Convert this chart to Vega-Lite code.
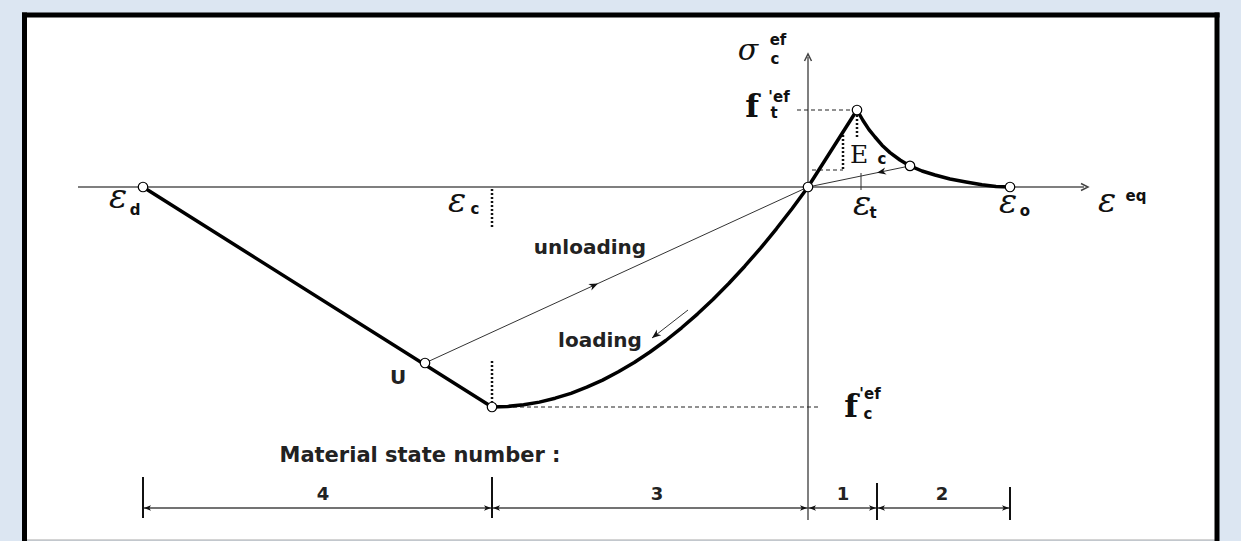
{
  "$schema": "https://vega.github.io/schema/vega-lite/v6.json",
  "width": 1241,
  "height": 541,
  "autosize": {"type": "none"},
  "padding": 0,
  "background": "#dce6f2",
  "config": {"view": {"stroke": null}},
  "datasets": {
    "sheet": [{"x": -7.835, "y": 1.72, "x2": 4.09, "y2": -3.53}],
    "border": [
      {"x": -7.835, "y": 1.745, "x2": -7.835, "y2": -3.6},
      {"x": -7.86, "y": 1.72, "x2": 4.115, "y2": 1.72},
      {"x": 4.09, "y": 1.745, "x2": 4.09, "y2": -3.6}
    ],
    "bottomEdge": [{"x": -7.81, "y": -3.53, "x2": 4.07, "y2": -3.53}],
    "axes": [
      {"x": -7.30, "y": 0, "x2": 2.76, "y2": 0},
      {"x": 0, "y": -3.33, "x2": 0, "y2": 1.30}
    ],
    "axisTipRight": [{"x": 2.80, "y": 0}],
    "axisTipUp": [{"x": 0, "y": 1.33}],
    "envelope": [
      {"x": -6.65, "y": 0},
      {"x": -3.16, "y": -2.2},
      {"x": -3.002, "y": -2.194},
      {"x": -2.844, "y": -2.178},
      {"x": -2.686, "y": -2.151},
      {"x": -2.528, "y": -2.112},
      {"x": -2.37, "y": -2.063},
      {"x": -2.212, "y": -2.002},
      {"x": -2.054, "y": -1.931},
      {"x": -1.896, "y": -1.848},
      {"x": -1.738, "y": -1.755},
      {"x": -1.58, "y": -1.65},
      {"x": -1.422, "y": -1.535},
      {"x": -1.264, "y": -1.408},
      {"x": -1.106, "y": -1.271},
      {"x": -0.948, "y": -1.122},
      {"x": -0.79, "y": -0.963},
      {"x": -0.632, "y": -0.792},
      {"x": -0.474, "y": -0.611},
      {"x": -0.316, "y": -0.418},
      {"x": -0.158, "y": -0.215},
      {"x": 0, "y": 0},
      {"x": 0.49, "y": 0.77},
      {"x": 0.55, "y": 0.665},
      {"x": 0.61, "y": 0.574},
      {"x": 0.67, "y": 0.5},
      {"x": 0.74, "y": 0.418},
      {"x": 0.82, "y": 0.344},
      {"x": 0.92, "y": 0.27},
      {"x": 1.02, "y": 0.211},
      {"x": 1.14, "y": 0.16},
      {"x": 1.27, "y": 0.12},
      {"x": 1.42, "y": 0.08},
      {"x": 1.58, "y": 0.05},
      {"x": 1.74, "y": 0.022},
      {"x": 1.88, "y": 0.006},
      {"x": 2.02, "y": 0}
    ],
    "thin": [
      {"x": -3.83, "y": -1.76, "x2": 0, "y2": 0},
      {"x": 1.02, "y": 0.211, "x2": 0, "y2": 0},
      {"x": -1.20, "y": -1.23, "x2": -1.56, "y2": -1.51},
      {"x": 0.53, "y": 0.14, "x2": 0.53, "y2": -0.03}
    ],
    "dashed": [
      {"x": -3.16, "y": -2.2, "x2": 0.10, "y2": -2.2},
      {"x": -0.11, "y": 0.77, "x2": 0.49, "y2": 0.77},
      {"x": 0.04, "y": 0.17, "x2": 0.35, "y2": 0.17}
    ],
    "dotted": [
      {"x": -3.16, "y": -0.02, "x2": -3.16, "y2": -0.41},
      {"x": -3.16, "y": -1.74, "x2": -3.16, "y2": -2.15},
      {"x": 0.49, "y": 0.72, "x2": 0.49, "y2": 0.50},
      {"x": 0.35, "y": 0.52, "x2": 0.35, "y2": 0.18}
    ],
    "dimLine": [{"x": -6.65, "y": -3.21, "x2": 2.02, "y2": -3.21}],
    "dimTicks": [
      {"x": -6.65, "y": -2.90, "x2": -6.65, "y2": -3.31},
      {"x": -3.16, "y": -2.90, "x2": -3.16, "y2": -3.31},
      {"x": 0.69, "y": -2.96, "x2": 0.69, "y2": -3.33},
      {"x": 2.02, "y": -3.00, "x2": 2.02, "y2": -3.33}
    ],
    "dimTipsLeft": [
      {"x": -6.64, "y": -3.21},
      {"x": -3.15, "y": -3.21},
      {"x": 0.01, "y": -3.21},
      {"x": 0.70, "y": -3.21}
    ],
    "dimTipsRight": [
      {"x": -3.17, "y": -3.21},
      {"x": -0.01, "y": -3.21},
      {"x": 0.68, "y": -3.21},
      {"x": 2.01, "y": -3.21}
    ],
    "unloadTip": [{"x": -2.10, "y": -0.965}],
    "softUnloadTip": [{"x": 0.69, "y": 0.142}],
    "loadTip": [{"x": -1.56, "y": -1.51}],
    "nodes": [
      {"x": -6.65, "y": 0},
      {"x": -3.83, "y": -1.76},
      {"x": -3.16, "y": -2.2},
      {"x": 0, "y": 0},
      {"x": 0.49, "y": 0.77},
      {"x": 1.02, "y": 0.211},
      {"x": 2.02, "y": 0}
    ],
    "wordLabels": [
      {"x": -2.18, "y": -0.67, "label": "unloading"},
      {"x": -2.08, "y": -1.60, "label": "loading"},
      {"x": -4.10, "y": -1.97, "label": "U"}
    ],
    "heading": [{"x": -3.88, "y": -2.75, "label": "Material state number :"}],
    "stateNumbers": [
      {"x": -4.85, "y": -3.13, "label": "4"},
      {"x": -1.51, "y": -3.13, "label": "3"},
      {"x": 0.35, "y": -3.13, "label": "1"},
      {"x": 1.34, "y": -3.13, "label": "2"}
    ],
    "epsilons": [
      {"x": -6.90, "y": -0.21, "label": "ε"},
      {"x": -3.51, "y": -0.25, "label": "ε"},
      {"x": 0.54, "y": -0.28, "label": "ε"},
      {"x": 2.00, "y": -0.26, "label": "ε"},
      {"x": 2.99, "y": -0.25, "label": "ε"}
    ],
    "sigma": [{"x": -0.60, "y": 1.27, "label": "σ"}],
    "strengthSymbols": [
      {"x": -0.56, "y": 0.70, "label": "f"},
      {"x": 0.43, "y": -2.30, "label": "f"}
    ],
    "modulusSymbol": [{"x": 0.51, "y": 0.24, "label": "E"}],
    "supers": [
      {"x": 3.28, "y": -0.14, "label": "eq"},
      {"x": -0.30, "y": 1.42, "label": "ef"},
      {"x": -0.29, "y": 0.85, "label": "'ef"},
      {"x": 0.62, "y": -2.12, "label": "'ef"}
    ],
    "subs": [
      {"x": -6.73, "y": -0.28, "label": "d"},
      {"x": -3.33, "y": -0.27, "label": "c"},
      {"x": 0.65, "y": -0.31, "label": "t"},
      {"x": 2.17, "y": -0.29, "label": "o"},
      {"x": -0.33, "y": 1.23, "label": "c"},
      {"x": -0.34, "y": 0.69, "label": "t"},
      {"x": 0.60, "y": -2.32, "label": "c"},
      {"x": 0.74, "y": 0.23, "label": "c"}
    ]
  },
  "encoding": {
    "x": {"field": "x", "type": "quantitative", "scale": {"domain": [-8.08, 4.33], "nice": false, "zero": false}, "axis": null},
    "y": {"field": "y", "type": "quantitative", "scale": {"domain": [-3.54, 1.87], "nice": false, "zero": false}, "axis": null}
  },
  "layer": [
    {
      "data": {"name": "sheet"},
      "mark": {"type": "rect", "fill": "#ffffff"},
      "encoding": {"x2": {"field": "x2"}, "y2": {"field": "y2"}}
    },
    {
      "data": {"name": "bottomEdge"},
      "mark": {"type": "rule", "stroke": "#a8a8a8", "strokeWidth": 1},
      "encoding": {"x2": {"field": "x2"}, "y2": {"field": "y2"}}
    },
    {
      "data": {"name": "border"},
      "mark": {"type": "rule", "stroke": "#000000", "strokeWidth": 5},
      "encoding": {"x2": {"field": "x2"}, "y2": {"field": "y2"}}
    },
    {
      "data": {"name": "axes"},
      "mark": {"type": "rule", "stroke": "#555555", "strokeWidth": 1.5},
      "encoding": {"x2": {"field": "x2"}, "y2": {"field": "y2"}}
    },
    {
      "data": {"name": "axisTipRight"},
      "mark": {"type": "point", "shape": "M-2,-1L0,0L-2,1", "filled": false, "stroke": "#444444", "strokeWidth": 1.5, "size": 49, "opacity": 1}
    },
    {
      "data": {"name": "axisTipUp"},
      "mark": {"type": "point", "shape": "M-2,-1L0,0L-2,1", "filled": false, "stroke": "#444444", "strokeWidth": 1.5, "size": 49, "angle": 270, "opacity": 1}
    },
    {
      "data": {"name": "thin"},
      "mark": {"type": "rule", "stroke": "#333333", "strokeWidth": 1},
      "encoding": {"x2": {"field": "x2"}, "y2": {"field": "y2"}}
    },
    {
      "data": {"name": "dashed"},
      "mark": {"type": "rule", "stroke": "#222222", "strokeWidth": 1.2, "strokeDash": [4, 3]},
      "encoding": {"x2": {"field": "x2"}, "y2": {"field": "y2"}}
    },
    {
      "data": {"name": "dotted"},
      "mark": {"type": "rule", "stroke": "#111111", "strokeWidth": 2.5, "strokeDash": [2, 2]},
      "encoding": {"x2": {"field": "x2"}, "y2": {"field": "y2"}}
    },
    {
      "data": {"name": "envelope"},
      "mark": {"type": "line", "stroke": "#000000", "strokeWidth": 3.5, "strokeJoin": "round", "strokeCap": "round"},
      "encoding": {}
    },
    {
      "data": {"name": "dimLine"},
      "mark": {"type": "rule", "stroke": "#444444", "strokeWidth": 1.5},
      "encoding": {"x2": {"field": "x2"}, "y2": {"field": "y2"}}
    },
    {
      "data": {"name": "dimTicks"},
      "mark": {"type": "rule", "stroke": "#111111", "strokeWidth": 2},
      "encoding": {"x2": {"field": "x2"}, "y2": {"field": "y2"}}
    },
    {
      "data": {"name": "dimTipsLeft"},
      "mark": {"type": "point", "shape": "M0,0L-2,-0.8L-1.5,0L-2,0.8Z", "filled": true, "color": "#111111", "size": 49, "angle": 180, "opacity": 1}
    },
    {
      "data": {"name": "dimTipsRight"},
      "mark": {"type": "point", "shape": "M0,0L-2,-0.8L-1.5,0L-2,0.8Z", "filled": true, "color": "#111111", "size": 49, "angle": 0, "opacity": 1}
    },
    {
      "data": {"name": "unloadTip"},
      "mark": {"type": "point", "shape": "M0,0L-2,-0.8L-1.4,0L-2,0.8Z", "filled": true, "color": "#111111", "size": 81, "angle": -25, "opacity": 1}
    },
    {
      "data": {"name": "softUnloadTip"},
      "mark": {"type": "point", "shape": "M0,0L-2,-0.8L-1.4,0L-2,0.8Z", "filled": true, "color": "#111111", "size": 81, "angle": 168, "opacity": 1}
    },
    {
      "data": {"name": "loadTip"},
      "mark": {"type": "point", "shape": "M0,0L-2,-0.8L-1.4,0L-2,0.8Z", "filled": true, "color": "#111111", "size": 81, "angle": 142, "opacity": 1}
    },
    {
      "data": {"name": "nodes"},
      "mark": {"type": "point", "shape": "circle", "filled": true, "fill": "#ffffff", "stroke": "#000000", "strokeWidth": 1.2, "size": 90, "opacity": 1}
    },
    {
      "data": {"name": "wordLabels"},
      "mark": {"type": "text", "font": "DejaVu Sans", "fontWeight": "bold", "fontSize": 20, "align": "center", "baseline": "alphabetic", "color": "#222222"},
      "encoding": {"text": {"field": "label"}}
    },
    {
      "data": {"name": "heading"},
      "mark": {"type": "text", "font": "DejaVu Sans", "fontWeight": "bold", "fontSize": 21, "align": "center", "baseline": "alphabetic", "color": "#222222"},
      "encoding": {"text": {"field": "label"}}
    },
    {
      "data": {"name": "stateNumbers"},
      "mark": {"type": "text", "font": "DejaVu Sans", "fontWeight": "bold", "fontSize": 18, "align": "center", "baseline": "alphabetic", "color": "#222222"},
      "encoding": {"text": {"field": "label"}}
    },
    {
      "data": {"name": "epsilons"},
      "mark": {"type": "text", "font": "DejaVu Serif", "fontStyle": "italic", "fontSize": 34, "align": "center", "baseline": "alphabetic", "color": "#111111"},
      "encoding": {"text": {"field": "label"}}
    },
    {
      "data": {"name": "sigma"},
      "mark": {"type": "text", "font": "DejaVu Serif", "fontStyle": "italic", "fontSize": 30, "align": "center", "baseline": "alphabetic", "color": "#111111"},
      "encoding": {"text": {"field": "label"}}
    },
    {
      "data": {"name": "strengthSymbols"},
      "mark": {"type": "text", "font": "DejaVu Serif", "fontWeight": "bold", "fontSize": 32, "align": "center", "baseline": "alphabetic", "color": "#111111"},
      "encoding": {"text": {"field": "label"}}
    },
    {
      "data": {"name": "modulusSymbol"},
      "mark": {"type": "text", "font": "DejaVu Serif", "fontSize": 25, "align": "center", "baseline": "alphabetic", "color": "#111111"},
      "encoding": {"text": {"field": "label"}}
    },
    {
      "data": {"name": "supers"},
      "mark": {"type": "text", "font": "DejaVu Sans", "fontWeight": "bold", "fontSize": 15, "align": "center", "baseline": "alphabetic", "color": "#111111"},
      "encoding": {"text": {"field": "label"}}
    },
    {
      "data": {"name": "subs"},
      "mark": {"type": "text", "font": "DejaVu Sans", "fontWeight": "bold", "fontSize": 15, "align": "center", "baseline": "alphabetic", "color": "#111111"},
      "encoding": {"text": {"field": "label"}}
    }
  ]
}
